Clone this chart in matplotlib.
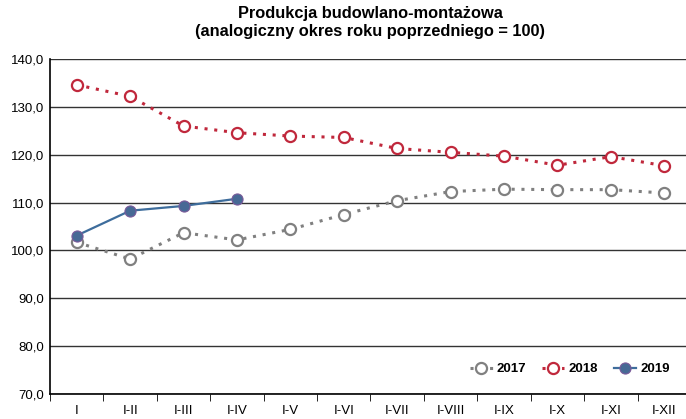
import matplotlib
matplotlib.use("Agg")
import matplotlib.pyplot as plt

months = ["I", "I-II", "I-III", "I-IV", "I-V", "I-VI", "I-VII", "I-VIII",
          "I-IX", "I-X", "I-XI", "I-XII"]
y2017 = [101.7, 98.2, 103.7, 102.2, 104.4, 107.5, 110.4, 112.3, 112.8, 112.7, 112.7, 112.0]
y2018 = [134.6, 132.2, 126.0, 124.6, 123.9, 123.6, 121.3, 120.5, 119.7, 117.8, 119.6, 117.7]
y2019 = [103.1, 108.3, 109.3, 110.8]
yticks = [70, 80, 90, 100, 110, 120, 130, 140]

plt.rcParams["font.family"] = ["Liberation Sans Narrow", "Liberation Sans", "DejaVu Sans"]

fig = plt.figure(figsize=(6.86, 4.19), dpi=100)
ax = fig.add_axes([50 / 686, 25 / 419, 641 / 686, 335 / 419])

x = list(range(len(months)))
ax.plot(x, y2017, color="#808080", ls=(0, (1, 2.2)), lw=2.2, marker="o", ms=8,
        mfc="white", mec="#808080", mew=1.6, label="2017", zorder=3)
ax.plot(x, y2018, color="#C0283C", ls=(0, (1, 2.2)), lw=2.2, marker="o", ms=8,
        mfc="white", mec="#C0283C", mew=1.6, label="2018", zorder=3)
ax.plot(x[:len(y2019)], y2019, color="#3E6D9C", lw=1.6, marker="o", ms=8,
        mfc="#476995", mec="#7A5A9A", mew=0.8, label="2019", zorder=4)

ax.set_xlim(-0.5, len(months) - 0.5)
ax.set_ylim(70, 140)
ax.set_yticks(yticks)
ax.set_yticklabels([f"{v:.1f}".replace(".", ",") for v in yticks], fontsize=9.5)
ax.set_xticks(x)
ax.set_xticklabels(months, fontsize=9.5)
ax.set_xticks([i - 0.5 for i in range(len(months) + 1)], minor=True)
ax.tick_params(axis="x", which="major", length=0, pad=8)
ax.tick_params(axis="x", which="minor", length=5, color="black")
ax.tick_params(axis="y", length=0, pad=4)
ax.yaxis.grid(True, color="#333333", lw=1.0)
ax.set_axisbelow(True)
for s in ["top", "right"]:
    ax.spines[s].set_visible(False)
ax.spines["left"].set_linewidth(1.2)
ax.spines["bottom"].set_linewidth(1.2)

fig.text(0.54, 0.985, "Produkcja budowlano-montażowa\n(analogiczny okres roku poprzedniego = 100)",
         ha="center", va="top", fontsize=11.8, fontweight="bold", linespacing=1.2)

leg = ax.legend(loc="lower right", bbox_to_anchor=(0.985, 0.02), ncol=3, frameon=False,
                prop={"weight": "bold", "size": 9.5}, handlelength=1.7,
                columnspacing=1.2, handletextpad=0.3)

fig.savefig("out.png", dpi=100)
